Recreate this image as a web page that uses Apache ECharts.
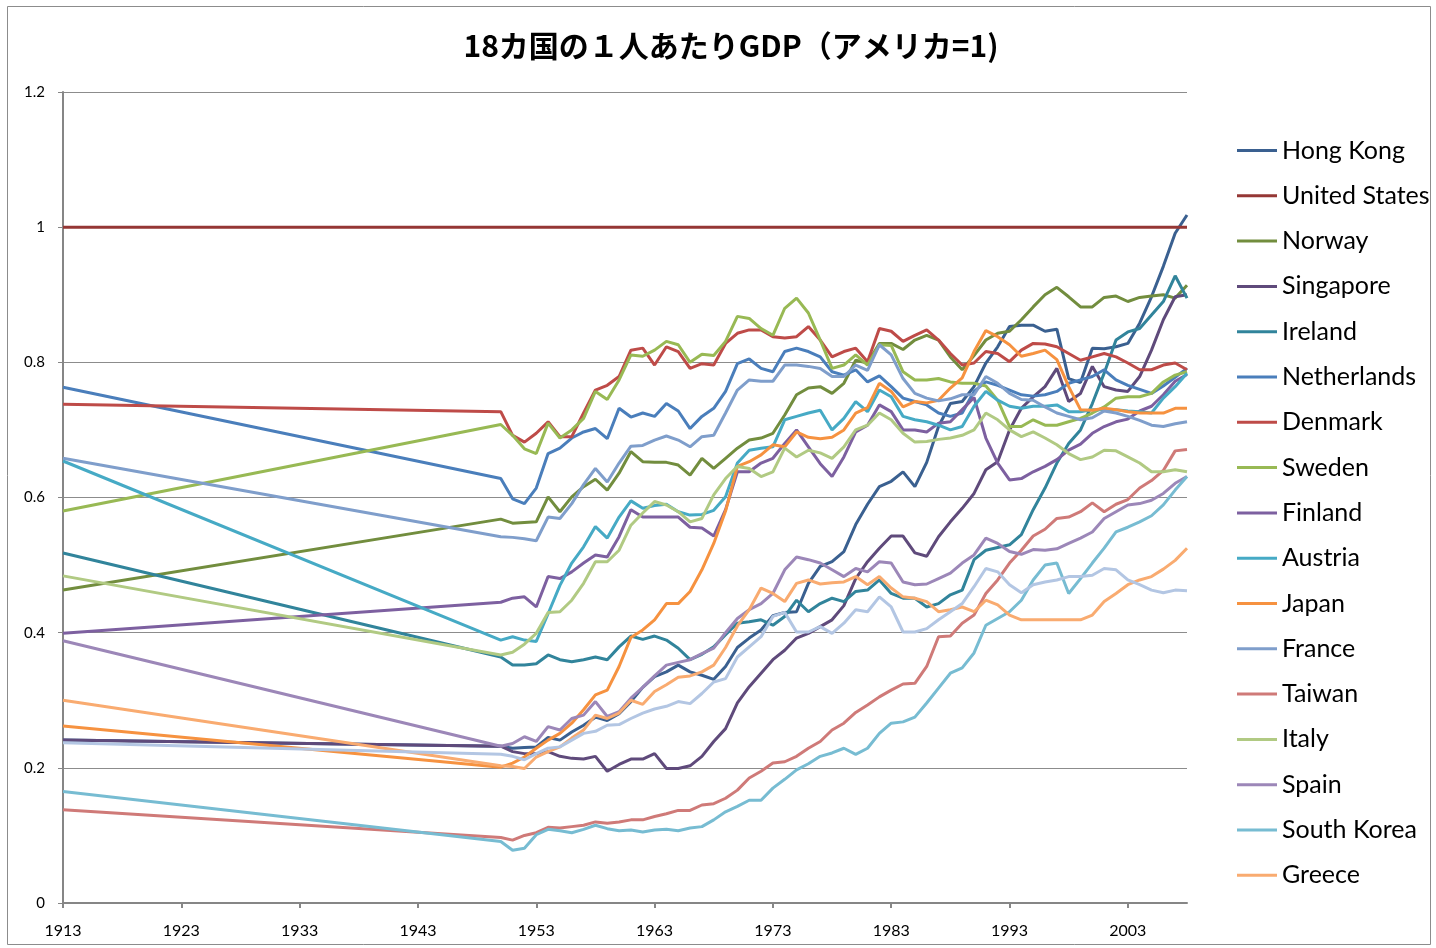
<!DOCTYPE html>
<html>
<head>
<meta charset="utf-8">
<title>18カ国の１人あたりGDP</title>
<script src="https://cdn.jsdelivr.net/npm/echarts@6/dist/echarts.min.js"></script>
<style>
  html, body { margin: 0; padding: 0; background: #fff; }
  #chart { width: 1436px; height: 948px; }
</style>
</head>
<body>
<div id="chart"></div>
<script>
// ==========================================
// DATA (US = 1), 1913 then 1950-2008
// ==========================================
var years = [1913,
  1950, 1951, 1952, 1953, 1954, 1955, 1956, 1957, 1958, 1959,
  1960, 1961, 1962, 1963, 1964, 1965, 1966, 1967, 1968, 1969,
  1970, 1971, 1972, 1973, 1974, 1975, 1976, 1977, 1978, 1979,
  1980, 1981, 1982, 1983, 1984, 1985, 1986, 1987, 1988, 1989,
  1990, 1991, 1992, 1993, 1994, 1995, 1996, 1997, 1998, 1999,
  2000, 2001, 2002, 2003, 2004, 2005, 2006, 2007, 2008];

var hongKong = [0.241,
  0.232, 0.229, 0.230, 0.231, 0.245, 0.241, 0.253, 0.263, 0.275, 0.270,
  0.280, 0.298, 0.319, 0.335, 0.342, 0.352, 0.342, 0.337, 0.331, 0.350,
  0.378, 0.392, 0.404, 0.425, 0.430, 0.431, 0.473, 0.498, 0.505, 0.520,
  0.560, 0.590, 0.616, 0.624, 0.638, 0.616, 0.652, 0.705, 0.739, 0.742,
  0.764, 0.799, 0.823, 0.853, 0.855, 0.855, 0.846, 0.849, 0.776, 0.770,
  0.821, 0.820, 0.823, 0.828, 0.858, 0.897, 0.942, 0.991, 1.018];

var unitedStates = [1,
  1, 1, 1, 1, 1, 1, 1, 1, 1, 1,
  1, 1, 1, 1, 1, 1, 1, 1, 1, 1,
  1, 1, 1, 1, 1, 1, 1, 1, 1, 1,
  1, 1, 1, 1, 1, 1, 1, 1, 1, 1,
  1, 1, 1, 1, 1, 1, 1, 1, 1, 1,
  1, 1, 1, 1, 1, 1, 1, 1, 1];

var norway = [0.463,
  0.568, 0.562, 0.563, 0.564, 0.601, 0.579, 0.601, 0.616, 0.627, 0.611,
  0.636, 0.668, 0.653, 0.652, 0.652, 0.648, 0.633, 0.658, 0.643, 0.658,
  0.673, 0.685, 0.688, 0.695, 0.722, 0.752, 0.762, 0.764, 0.754, 0.769,
  0.803, 0.799, 0.828, 0.828, 0.819, 0.833, 0.840, 0.833, 0.808, 0.789,
  0.810, 0.833, 0.843, 0.846, 0.863, 0.882, 0.900, 0.911, 0.897, 0.882,
  0.882, 0.896, 0.898, 0.890, 0.896, 0.898, 0.900, 0.895, 0.914];

var singapore = [0.241,
  0.232, 0.224, 0.221, 0.221, 0.224, 0.217, 0.214, 0.213, 0.217, 0.195,
  0.205, 0.213, 0.213, 0.221, 0.199, 0.199, 0.203, 0.217, 0.239, 0.258,
  0.296, 0.320, 0.340, 0.360, 0.374, 0.392, 0.399, 0.409, 0.419, 0.440,
  0.480, 0.505, 0.525, 0.543, 0.543, 0.518, 0.513, 0.542, 0.564, 0.584,
  0.606, 0.641, 0.653, 0.700, 0.732, 0.749, 0.764, 0.791, 0.742, 0.754,
  0.794, 0.764, 0.759, 0.757, 0.779, 0.818, 0.863, 0.897, 0.900];

var ireland = [0.518,
  0.364, 0.352, 0.352, 0.354, 0.367, 0.360, 0.357, 0.360, 0.364, 0.360,
  0.379, 0.395, 0.390, 0.395, 0.389, 0.377, 0.360, 0.368, 0.379, 0.397,
  0.414, 0.416, 0.419, 0.411, 0.424, 0.448, 0.431, 0.443, 0.451, 0.446,
  0.461, 0.463, 0.478, 0.458, 0.451, 0.451, 0.438, 0.443, 0.456, 0.463,
  0.508, 0.522, 0.526, 0.530, 0.545, 0.582, 0.614, 0.651, 0.680, 0.700,
  0.739, 0.784, 0.833, 0.845, 0.850, 0.870, 0.890, 0.928, 0.895];

var netherlands = [0.763,
  0.628, 0.598, 0.591, 0.614, 0.665, 0.673, 0.688, 0.697, 0.702, 0.687,
  0.732, 0.719, 0.725, 0.720, 0.739, 0.728, 0.702, 0.720, 0.732, 0.757,
  0.798, 0.805, 0.791, 0.786, 0.816, 0.821, 0.816, 0.808, 0.786, 0.781,
  0.789, 0.771, 0.780, 0.764, 0.747, 0.742, 0.737, 0.725, 0.720, 0.725,
  0.757, 0.771, 0.766, 0.759, 0.752, 0.750, 0.752, 0.757, 0.769, 0.774,
  0.779, 0.789, 0.774, 0.766, 0.760, 0.754, 0.765, 0.778, 0.791];

var denmark = [0.738,
  0.727, 0.692, 0.682, 0.695, 0.712, 0.690, 0.690, 0.725, 0.759, 0.766,
  0.779, 0.818, 0.821, 0.796, 0.823, 0.816, 0.791, 0.798, 0.796, 0.828,
  0.843, 0.848, 0.848, 0.838, 0.836, 0.838, 0.853, 0.833, 0.808, 0.816,
  0.821, 0.801, 0.850, 0.846, 0.831, 0.840, 0.848, 0.833, 0.813, 0.796,
  0.799, 0.816, 0.813, 0.801, 0.818, 0.828, 0.827, 0.823, 0.813, 0.803,
  0.808, 0.813, 0.808, 0.799, 0.789, 0.789, 0.796, 0.799, 0.789];

var sweden = [0.580,
  0.708, 0.692, 0.672, 0.665, 0.710, 0.688, 0.700, 0.717, 0.757, 0.745,
  0.774, 0.811, 0.809, 0.818, 0.831, 0.826, 0.800, 0.812, 0.810, 0.831,
  0.868, 0.865, 0.850, 0.840, 0.880, 0.895, 0.873, 0.833, 0.791, 0.796,
  0.811, 0.796, 0.826, 0.825, 0.786, 0.774, 0.774, 0.776, 0.771, 0.769,
  0.769, 0.765, 0.744, 0.705, 0.705, 0.715, 0.707, 0.707, 0.712, 0.717,
  0.725, 0.734, 0.747, 0.749, 0.749, 0.754, 0.771, 0.781, 0.786];

var finland = [0.399,
  0.445, 0.451, 0.453, 0.438, 0.483, 0.480, 0.490, 0.503, 0.515, 0.512,
  0.542, 0.582, 0.571, 0.571, 0.571, 0.571, 0.556, 0.555, 0.543, 0.582,
  0.638, 0.638, 0.651, 0.658, 0.680, 0.700, 0.675, 0.650, 0.631, 0.660,
  0.697, 0.707, 0.737, 0.727, 0.700, 0.700, 0.697, 0.710, 0.712, 0.730,
  0.748, 0.688, 0.651, 0.626, 0.628, 0.638, 0.646, 0.656, 0.670, 0.679,
  0.695, 0.705, 0.712, 0.716, 0.728, 0.735, 0.752, 0.772, 0.782];

var austria = [0.654,
  0.389, 0.394, 0.389, 0.387, 0.428, 0.470, 0.503, 0.527, 0.557, 0.540,
  0.571, 0.595, 0.584, 0.588, 0.590, 0.579, 0.574, 0.575, 0.581, 0.601,
  0.651, 0.670, 0.673, 0.675, 0.715, 0.720, 0.725, 0.729, 0.700, 0.717,
  0.742, 0.727, 0.759, 0.749, 0.720, 0.715, 0.712, 0.707, 0.700, 0.705,
  0.735, 0.757, 0.744, 0.735, 0.732, 0.735, 0.735, 0.737, 0.727, 0.727,
  0.730, 0.730, 0.730, 0.728, 0.727, 0.725, 0.747, 0.764, 0.784];

var japan = [0.262,
  0.201, 0.207, 0.216, 0.229, 0.241, 0.251, 0.266, 0.286, 0.308, 0.315,
  0.350, 0.393, 0.404, 0.419, 0.443, 0.443, 0.461, 0.493, 0.532, 0.580,
  0.646, 0.653, 0.663, 0.678, 0.675, 0.697, 0.689, 0.687, 0.689, 0.700,
  0.725, 0.733, 0.769, 0.757, 0.734, 0.742, 0.740, 0.744, 0.762, 0.777,
  0.816, 0.847, 0.838, 0.826, 0.809, 0.813, 0.818, 0.804, 0.764, 0.730,
  0.729, 0.732, 0.730, 0.727, 0.725, 0.725, 0.725, 0.732, 0.732];

var france = [0.658,
  0.542, 0.541, 0.539, 0.536, 0.571, 0.569, 0.591, 0.619, 0.643, 0.623,
  0.651, 0.676, 0.677, 0.685, 0.691, 0.685, 0.675, 0.690, 0.692, 0.725,
  0.759, 0.774, 0.772, 0.772, 0.796, 0.796, 0.794, 0.791, 0.779, 0.779,
  0.796, 0.788, 0.826, 0.811, 0.776, 0.754, 0.747, 0.743, 0.746, 0.752,
  0.752, 0.779, 0.769, 0.754, 0.745, 0.744, 0.734, 0.725, 0.720, 0.715,
  0.718, 0.728, 0.725, 0.720, 0.714, 0.707, 0.705, 0.709, 0.712];

var taiwan = [0.138,
  0.097, 0.093, 0.100, 0.104, 0.112, 0.111, 0.113, 0.115, 0.120, 0.118,
  0.120, 0.123, 0.123, 0.128, 0.132, 0.137, 0.137, 0.145, 0.147, 0.155,
  0.167, 0.185, 0.195, 0.207, 0.209, 0.217, 0.229, 0.239, 0.256, 0.266,
  0.282, 0.293, 0.305, 0.315, 0.324, 0.325, 0.350, 0.394, 0.395, 0.414,
  0.426, 0.458, 0.478, 0.503, 0.522, 0.543, 0.553, 0.569, 0.571, 0.579,
  0.592, 0.579, 0.590, 0.597, 0.614, 0.625, 0.640, 0.669, 0.671];

var italy = [0.484,
  0.367, 0.371, 0.383, 0.399, 0.430, 0.431, 0.448, 0.473, 0.505, 0.505,
  0.522, 0.559, 0.577, 0.594, 0.589, 0.579, 0.564, 0.569, 0.604, 0.628,
  0.646, 0.643, 0.631, 0.638, 0.673, 0.660, 0.670, 0.666, 0.658, 0.675,
  0.700, 0.707, 0.725, 0.715, 0.695, 0.682, 0.683, 0.686, 0.688, 0.692,
  0.700, 0.725, 0.715, 0.700, 0.690, 0.697, 0.688, 0.678, 0.665, 0.656,
  0.660, 0.670, 0.669, 0.660, 0.651, 0.638, 0.638, 0.641, 0.638];

var spain = [0.388,
  0.232, 0.236, 0.246, 0.239, 0.261, 0.256, 0.273, 0.278, 0.298, 0.276,
  0.283, 0.303, 0.319, 0.336, 0.352, 0.356, 0.360, 0.369, 0.377, 0.400,
  0.421, 0.434, 0.443, 0.458, 0.493, 0.512, 0.508, 0.503, 0.493, 0.483,
  0.495, 0.490, 0.505, 0.503, 0.475, 0.471, 0.472, 0.480, 0.488, 0.503,
  0.515, 0.540, 0.532, 0.520, 0.516, 0.523, 0.522, 0.524, 0.532, 0.540,
  0.549, 0.569, 0.579, 0.589, 0.591, 0.596, 0.606, 0.621, 0.631];

var southKorea = [0.165,
  0.091, 0.078, 0.081, 0.101, 0.109, 0.107, 0.104, 0.109, 0.115, 0.110,
  0.107, 0.108, 0.105, 0.108, 0.109, 0.107, 0.111, 0.113, 0.123, 0.135,
  0.143, 0.152, 0.152, 0.170, 0.183, 0.197, 0.206, 0.217, 0.222, 0.229,
  0.220, 0.229, 0.251, 0.266, 0.268, 0.275, 0.296, 0.318, 0.340, 0.348,
  0.370, 0.411, 0.421, 0.431, 0.448, 0.478, 0.500, 0.503, 0.458, 0.480,
  0.503, 0.525, 0.549, 0.556, 0.564, 0.573, 0.589, 0.611, 0.631];

var greece = [0.300,
  0.203, 0.202, 0.199, 0.216, 0.224, 0.231, 0.244, 0.256, 0.278, 0.273,
  0.281, 0.300, 0.294, 0.313, 0.323, 0.334, 0.336, 0.342, 0.352, 0.378,
  0.410, 0.434, 0.466, 0.458, 0.446, 0.473, 0.478, 0.472, 0.474, 0.475,
  0.483, 0.471, 0.483, 0.466, 0.453, 0.451, 0.446, 0.431, 0.434, 0.438,
  0.431, 0.448, 0.441, 0.426, 0.419, 0.419, 0.419, 0.419, 0.419, 0.419,
  0.426, 0.446, 0.458, 0.471, 0.478, 0.483, 0.494, 0.507, 0.525];

// 18th country, its legend entry is cut off in the original
var portugal = [0.237,
  0.220, 0.217, 0.212, 0.221, 0.229, 0.231, 0.241, 0.251, 0.254, 0.263,
  0.264, 0.273, 0.281, 0.287, 0.291, 0.298, 0.295, 0.310, 0.327, 0.332,
  0.364, 0.379, 0.394, 0.424, 0.430, 0.401, 0.401, 0.409, 0.399, 0.414,
  0.434, 0.431, 0.453, 0.438, 0.401, 0.401, 0.406, 0.419, 0.431, 0.443,
  0.468, 0.495, 0.490, 0.471, 0.459, 0.471, 0.475, 0.478, 0.483, 0.483,
  0.485, 0.495, 0.493, 0.478, 0.471, 0.463, 0.459, 0.463, 0.462];

var countryNames = ['Hong Kong', 'United States', 'Norway', 'Singapore', 'Ireland',
  'Netherlands', 'Denmark', 'Sweden', 'Finland', 'Austria', 'Japan', 'France',
  'Taiwan', 'Italy', 'Spain', 'South Korea', 'Greece', 'Portugal'];

var countryValues = [hongKong, unitedStates, norway, singapore, ireland,
  netherlands, denmark, sweden, finland, austria, japan, france,
  taiwan, italy, spain, southKorea, greece, portugal];

var lineColors = ['#3A6090', '#953735', '#728D3E', '#5F4A7B', '#31849B',
  '#4A7EBB', '#BE4B48', '#98B954', '#7D60A0', '#46AAC5', '#F69240', '#7F9ECB',
  '#CF7A78', '#B1CA83', '#9C87B8', '#77BCD2', '#F9AB70', '#B3C6E3'];

var labelFont = 'Lato, "Open Sans", sans-serif';

// ==========================================
// CHART
// ==========================================
var chartDom = document.getElementById('chart');
var chart = echarts.init(chartDom, null, { renderer: 'canvas' });

var seriesList = [];
for (var i = 0; i < countryNames.length; i++) {
    var vals = countryValues[i];
    var pts = [];
    for (var j = 0; j < years.length; j++) {
        pts.push([years[j], vals[j]]);
    }
    seriesList.push({
        name: countryNames[i],
        type: 'line',
        data: pts,
        showSymbol: false,
        symbol: 'none',
        lineStyle: { width: 3, color: lineColors[i] },
        itemStyle: { color: lineColors[i] }
    });
}

var option = {
    backgroundColor: '#ffffff',
    animation: false,
    graphic: [
        {
            type: 'rect',
            shape: { x: 7.5, y: 6.5, width: 1423, height: 938 },
            style: { fill: 'none', stroke: '#8c8c8c', lineWidth: 1 },
            silent: true
        },
        {
            type: 'text',
            x: 731,
            y: 46,
            style: {
                text: '18カ国の１人あたりGDP（アメリカ=1)',
                font: 'bold 30px "Noto Sans CJK JP", sans-serif',
                fill: '#000',
                textAlign: 'center',
                textVerticalAlign: 'middle'
            }
        }
    ],
    legend: {
        data: countryNames.slice(0, 17), // Portugal is not shown
        orient: 'vertical',
        left: 1232,
        top: 133,
        icon: 'rect',
        itemWidth: 40,
        itemHeight: 3,
        itemGap: 20.3,
        textStyle: {
            fontFamily: labelFont,
            fontSize: 25,
            lineHeight: 24,
            color: '#000'
        }
    },
    grid: {
        left: 63,
        right: 249,
        top: 92,
        bottom: 45
    },
    xAxis: {
        type: 'value',
        min: 1913,
        max: 2008,
        interval: 10,
        axisLine: { show: true, lineStyle: { color: '#868686', width: 2 } },
        axisTick: { show: true, length: 5, lineStyle: { color: '#868686', width: 2 } },
        splitLine: { show: false },
        axisLabel: {
            showMaxLabel: false,
            margin: 20,
            fontFamily: labelFont,
            fontSize: 16,
            color: '#000',
            formatter: function(v) { return String(v); }
        }
    },
    yAxis: {
        type: 'value',
        min: 0,
        max: 1.2,
        interval: 0.2,
        axisLine: { show: true, lineStyle: { color: '#868686', width: 2 } },
        axisTick: { show: true, length: 5, lineStyle: { color: '#868686', width: 1 } },
        splitLine: { lineStyle: { color: '#8c8c8c', width: 1 } },
        axisLabel: {
            margin: 18,
            fontFamily: labelFont,
            fontSize: 15,
            color: '#000'
        }
    },
    series: seriesList
};

chart.setOption(option);

window.addEventListener('resize', function() {
    chart.resize();
});
</script>
</body>
</html>
